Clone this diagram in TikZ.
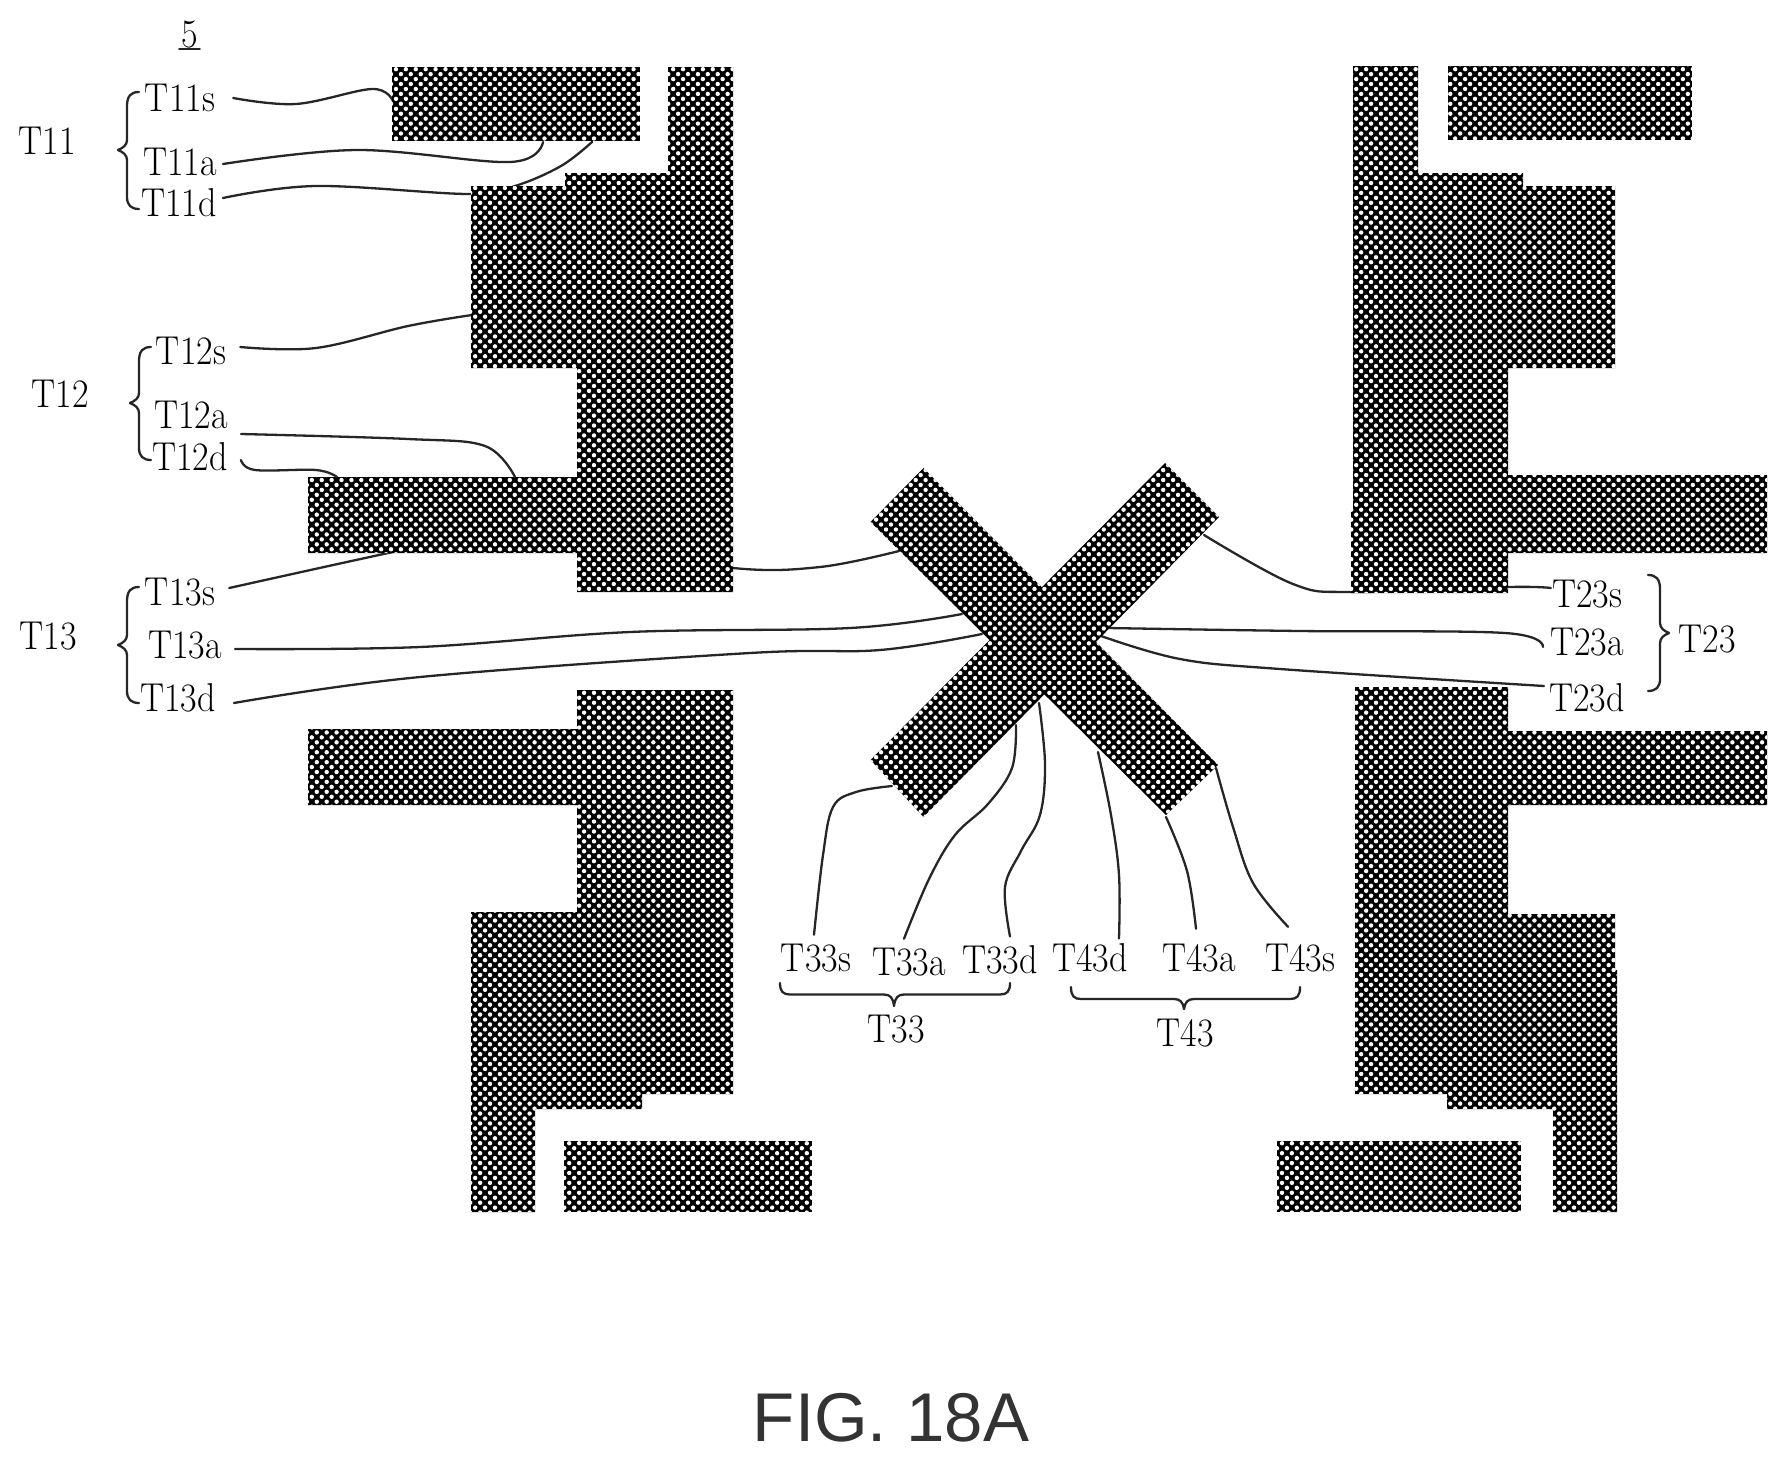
\documentclass[tikz,border=0pt]{standalone}
\usepackage{fontspec}
\newfontfamily\figfont{Liberation Sans}
\usetikzlibrary{patterns.meta}
\tikzset{
  tft/.style={preaction={fill=black},pattern={Dots[distance=7pt,radius=2.2pt,angle=45]},pattern color=white},
  link/.style={draw=black!85,line width=2.3pt,line cap=round,line join=round},
  lab/.style={inner sep=0pt,yscale=1.12,transform shape,font=\fontsize{36}{38}\selectfont},
  figlab/.style={inner sep=0pt,font=\figfont\fontsize{69}{72}\selectfont,text=black!80},
}
% vertical brace: dir, spine x, top y, tip y, bottom y
\newcommand\vbrace[5]{\draw[link] ({#2+#1*12},#3) .. controls ({#2+#1*4},#3) and (#2,{#3+4}) .. (#2,{#3+14}) -- (#2,{#4-10}) .. controls (#2,{#4-5}) and ({#2-#1*4},{#4-2}) .. ({#2-#1*9},#4) .. controls ({#2-#1*4},{#4+2}) and (#2,{#4+5}) .. (#2,{#4+10}) -- (#2,{#5-12}) .. controls (#2,{#5-4}) and ({#2+#1*4},#5) .. ({#2+#1*12},#5);}
% horizontal brace: left x, right x, top y, bar y, tip x, tip y
\newcommand\hbrace[6]{\draw[link] (#1,#3) .. controls (#1,{#4-3}) and ({#1+3},#4) .. ({#1+10},#4) -- ({#5-10},#4) .. controls ({#5-4},#4) and ({#5-1},{#4+3}) .. (#5,#6) .. controls ({#5+1},{#4+3}) and ({#5+4},#4) .. ({#5+10},#4) -- ({#2-10},#4) .. controls ({#2-3},#4) and (#2,{#4-3}) .. (#2,#3);}
\begin{document}
\begin{tikzpicture}[x=1pt,y=-1pt]
\useasboundingbox (0,0) rectangle (1788,1465);
% labels
\node[lab] (five) at (190,35) {5};
\coordinate (u1) at (179,49);
\coordinate (u2) at (200,49);
\draw[link,line width=1.8pt] (u1) -- (u2);
\node[lab] (T11) at (47,141) {T11};
\node[lab] (T11s) at (180,98) {T11s};
\node[lab] (T11a) at (180,162) {T11a};
\node[lab] (T11d) at (179,203) {T11d};
\node[lab] (T12) at (60,394) {T12};
\node[lab] (T12s) at (191,351) {T12s};
\node[lab] (T12a) at (191,415) {T12a};
\node[lab] (T12d) at (190,457) {T12d};
\node[lab] (T13) at (48,636) {T13};
\node[lab] (T13s) at (180,592) {T13s};
\node[lab] (T13a) at (185,645) {T13a};
\node[lab] (T13d) at (178,698) {T13d};
\node[lab] (T23) at (1707,639) {T23};
\node[lab] (T23s) at (1587,594) {T23s};
\node[lab] (T23a) at (1587,642) {T23a};
\node[lab] (T23d) at (1587,698) {T23d};
\node[lab] (T33s) at (816,958) {T33s};
\node[lab] (T33a) at (909,962) {T33a};
\node[lab] (T33d) at (1000,960) {T33d};
\node[lab] (T43d) at (1090,958) {T43d};
\node[lab] (T43a) at (1199,958) {T43a};
\node[lab] (T43s) at (1300,958) {T43s};
\node[lab] (T33) at (896,1029) {T33};
\node[lab] (T43) at (1185,1033) {T43};
\node[figlab] (fig) at (891,1418) {FIG. 18A};
% connector ends
\coordinate (e11s) at (393,101);
\coordinate (e11a) at (543,142);
\coordinate (e11d) at (592,142);
\coordinate (e12s) at (472,315);
\coordinate (e12a) at (515,477);
\coordinate (e12d) at (337,477);
\coordinate (e13s) at (899,551);
\coordinate (e13a) at (962,614);
\coordinate (e13d) at (982,634);
\coordinate (e23s) at (1204,535);
\coordinate (e23a) at (1108,628);
\coordinate (e23d) at (1101,636);
\coordinate (e33s) at (892,786);
\coordinate (e33a) at (1016,725);
\coordinate (e33d) at (1039,703);
\coordinate (e43d) at (1098,752);
\coordinate (e43a) at (1166,817);
\coordinate (e43s) at (1216,768);
% connectors
\draw[link] plot[smooth,tension=.6] coordinates {([xshift=18pt]T11s.east) (296,104) (372,89) (e11s)};
\draw[link] plot[smooth,tension=.6] coordinates {([xshift=6pt,yshift=-2pt]T11a.east) (357,150) (510,162) (e11a)};
\draw[link] plot[smooth,tension=.6] coordinates {([xshift=6pt,yshift=5pt]T11d.east) (316,186) (469,194) (515,186) (561,166) (e11d)};
\draw[link] plot[smooth,tension=.6] coordinates {([xshift=14pt,yshift=4pt]T12s.east) (316,348) (408,326) (e12s)};
\draw[link] plot[smooth,tension=.6] coordinates {([xshift=13pt,yshift=-19pt]T12a.east) (408,439) (485,446) (e12a)};
\draw[link] plot[smooth,tension=.6] coordinates {([xshift=13pt,yshift=-3pt]T12d.east) (255,470) (316,470) (e12d)};
\draw[link] plot[smooth,tension=.6] coordinates {([xshift=14pt,yshift=4pt]T13s.east) (393,552) (480,535) (590,545) (733,568) (820,567) (e13s)};
\draw[link] plot[smooth,tension=.6] coordinates {([xshift=13pt,yshift=-4pt]T13a.east) (420,647) (630,632) (850,628) (e13a)};
\draw[link] plot[smooth,tension=.6] coordinates {([xshift=18pt,yshift=-5pt]T13d.east) (420,677) (750,653) (880,650) (e13d)};
\draw[link] plot[smooth,tension=.6] coordinates {([xshift=-1pt,yshift=6pt]T23s.west) (1508,587) (1353,592) (1293,584) (e23s)};
\draw[link] plot[smooth,tension=.6] coordinates {([xshift=-7pt,yshift=-5pt]T23a.west) (1505,633) (1300,631) (e23a)};
\draw[link] plot[smooth,tension=.6] coordinates {([xshift=-5pt,yshift=12pt]T23d.west) (1280,669) (1180,659) (e23d)};
\draw[link] plot[smooth,tension=.6] coordinates {([xshift=-2pt,yshift=9pt]T33s.north) (823,855) (833,807) (856,792) (e33s)};
\draw[link] plot[smooth,tension=.6] coordinates {([xshift=-5pt,yshift=9pt]T33a.north) (929,879) (955,835) (988,804) (1012,768) (e33a)};
\draw[link] plot[smooth,tension=.6] coordinates {([xshift=10pt,yshift=9pt]T33d.north) (1005,887) (1021,851) (1040,815) (1045,764) (e33d)};
\draw[link] plot[smooth,tension=.6] coordinates {([xshift=29pt,yshift=5pt]T43d.north) (1119,875) (1111,815) (e43d)};
\draw[link] plot[smooth,tension=.6] coordinates {([xshift=-3pt,yshift=15pt]T43a.north) (1187,871) (e43a)};
\draw[link] plot[smooth,tension=.6] coordinates {([xshift=-12pt,yshift=17pt]T43s.north) (1253,883) (1233,827) (e43s)};
% braces
\vbrace{1}{127}{92}{150}{209}
\vbrace{1}{139}{347}{403}{460}
\vbrace{1}{127}{587}{645}{703}
\vbrace{-1}{1660}{575}{633}{691}
\hbrace{780}{1010}{983}{994.5}{894}{1006}
\hbrace{1071}{1300}{987}{999}{1184}{1009}
% patterned conductors
\path[tft] (392,67) rectangle (640,141);
\path[tft] (668,67) -- (733,67) -- (733,592) -- (577,592) -- (577,553) -- (308,553) -- (308,477) -- (577,477) -- (577,368) -- (471,368) -- (471,186) -- (565,186) -- (565,173) -- (668,173) -- cycle;
\path[tft] (577,690) -- (733,690) -- (733,1094) -- (642,1094) -- (642,1109) -- (535,1109) -- (535,1212) -- (471,1212) -- (471,912) -- (577,912) -- (577,805) -- (308,805) -- (308,729) -- (577,729) -- cycle;
\path[tft] (564,1141) rectangle (812,1212);
\path[tft] (1448,66) rectangle (1692,140);
\path[tft] (1353,66) -- (1418,66) -- (1418,173) -- (1523,173) -- (1523,186) -- (1615,186) -- (1615,368) -- (1508,368) -- (1508,475) -- (1767,475) -- (1767,553) -- (1508,553) -- (1508,593) -- (1351,593) -- (1351,510) -- (1353,510) -- cycle;
\path[tft] (1355,687) -- (1508,687) -- (1508,731) -- (1767,731) -- (1767,805) -- (1508,805) -- (1508,914) -- (1615,914) -- (1615,970) -- (1617,970) -- (1617,1212) -- (1553,1212) -- (1553,1109) -- (1447,1109) -- (1447,1094) -- (1355,1094) -- cycle;
\path[tft] (1277,1141) rectangle (1521,1212);
\path[tft] (923.5,468) -- (870.5,522) -- (1166,815) -- (1218,765) -- cycle;
\path[tft] (1165,463) -- (1219,517) -- (923.5,817) -- (870.5,760) -- cycle;
\end{tikzpicture}
\end{document}
